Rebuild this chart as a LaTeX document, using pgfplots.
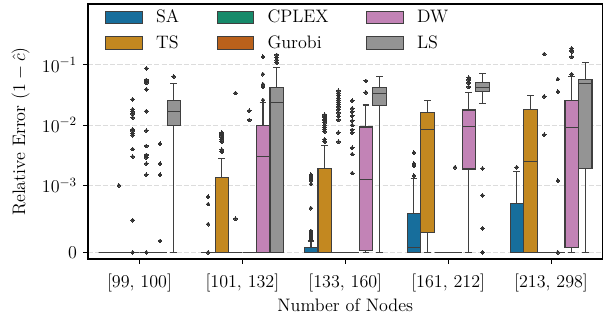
\RequirePackage{fix-cm}
\documentclass[border=0pt,12pt]{standalone}
\usepackage{pgfplots}
\pgfplotsset{compat=1.18}
\usepgfplotslibrary{statistics}
\definecolor{cSA}{HTML}{176E9C}
\definecolor{cTS}{HTML}{C38820}
\definecolor{cCP}{HTML}{168A6A}
\definecolor{cGU}{HTML}{BA611B}
\definecolor{cDW}{HTML}{C283B6}
\definecolor{cLS}{HTML}{949494}
\definecolor{edge}{HTML}{3F3F3F}
\definecolor{outc}{HTML}{333333}
\definecolor{gridc}{HTML}{DCDCDC}
% symmetric-log scale of the chart (linear below 1e-3, log above)
\newcommand{\symlog}[2]{%
  \begingroup
  \pgfkeys{/pgf/fpu=true,/pgf/fpu/output format=fixed}%
  \pgfmathparse{min(#1*1000,1)*1.1111111+ln(max(#1*1000,1))*0.4342944819}%
  \xdef#2{\pgfmathresult}%
  \endgroup}
% #1 position, #2 colour, #3 lower whisker, #4 Q1, #5 median, #6 Q3, #7 upper whisker, #8 outliers (comma list)
\newcommand{\bx}[8]{%
  \symlog{#3}\vA\symlog{#4}\vB\symlog{#5}\vC\symlog{#6}\vD\symlog{#7}\vE
  \gdef\outl{}%
  \if\relax\detokenize{#8}\relax\else
    \foreach \v in {#8}{\symlog{\v}\vo\xdef\outl{\outl(0,\vo)}}%
  \fi
  \edef\doplot{\noexpand\addplot[forget plot, draw=edge, line width=0.8pt,
    mark=*, mark size=1.35pt, mark options={fill=outc, draw=outc, line width=0pt},
    boxplot/draw direction=y,
    boxplot/every box/.style={fill=#2, draw=edge},
    boxplot/every median/.style={draw=edge},
    boxplot/every whisker/.style={draw=edge},
    boxplot prepared={draw position=#1, box extend=0.13, whisker extend=0.065,
      lower whisker=\vA, lower quartile=\vB, median=\vC, upper quartile=\vD, upper whisker=\vE}]
    coordinates {\outl};}%
  \doplot}
\symlog{-0.0001}\ymn
\symlog{1.02}\ymx
\symlog{0.001}\tA
\symlog{0.01}\tB
\symlog{0.1}\tC
\begin{document}
\fontsize{13}{15.6}\selectfont
\begin{tikzpicture}
\begin{axis}[
  scale only axis, width=370.4pt, height=183.6pt,
  xmin=-0.5, xmax=4.5,
  ymin=\ymn, ymax=\ymx,
  ytick={0,\tA,\tB,\tC},
  yticklabels={$0$,$10^{-3}$,$10^{-2}$,$10^{-1}$},
  xtick={0,1,2,3,4},
  xticklabels={{[99, 100]},{[101, 132]},{[133, 160]},{[161, 212]},{[213, 298]}},
  xticklabel style={yshift=-3pt},
  xtick pos=bottom, ytick pos=left,
  tick align=outside, major tick length=3.5pt,
  every tick/.style={black, line width=0.8pt},
  minor tick num=0,
  axis line style={line width=0.9pt},
  ymajorgrids,
  major grid style={gridc, line width=0.8pt, dash pattern=on 3.7pt off 1.6pt},
  xlabel={Number of Nodes},
  xlabel style={yshift=4.5pt},
  ylabel={Relative Error $(1-\hat{c})$},
  legend columns=3,
  legend cell align=left,
  legend style={at={(0.033,0.985)}, anchor=north west, draw=none, fill=none,
    inner sep=0pt, row sep=5.5pt,
    nodes={inner sep=1pt, anchor=west},
    /tikz/every odd column/.style={column sep=8.6pt},
    /tikz/every even column/.style={column sep=26pt}},
  legend image code/.code={\draw[#1, line width=0.6pt] (0pt,-4.6pt) rectangle (26.4pt,4.6pt);},
]
\addlegendimage{fill=cSA, draw=edge}\addlegendentry{SA}
\addlegendimage{fill=cCP, draw=edge}\addlegendentry{CPLEX}
\addlegendimage{fill=cDW, draw=edge}\addlegendentry{DW}
\addlegendimage{fill=cTS, draw=edge}\addlegendentry{TS}
\addlegendimage{fill=cGU, draw=edge}\addlegendentry{Gurobi}
\addlegendimage{fill=cLS, draw=edge}\addlegendentry{LS}
% group 0: [99, 100]
\bx{-0.3333}{cSA}{0}{0}{0}{0}{0}{}
\bx{-0.2}{cTS}{0}{0}{0}{0}{0}{0.001}
\bx{-0.0667}{cCP}{0}{0}{0}{0}{0}{0.0268,0.0183,0.0167,0.0153,0.0133,0.0085,0.0080,0.0073,0.0068,0.0040,0.0030,0.00048,0}
\bx{0.0667}{cGU}{0}{0}{0}{0}{0}{0.0875,0.056,0.053,0.050,0.039,0.017,0.0081,0.0045,0.0032,0.0031,0.0029,0.0023,0.0015,0}
\bx{0.2}{cDW}{0}{0}{0}{0}{0}{0.0049,0.0023,0.0015,0.00017}
\bx{0.3333}{cLS}{0}{0.0097}{0.0167}{0.0254}{0.049}{0.064}
% group 1: [101, 132]
\bx{0.6667}{cSA}{0}{0}{0}{0}{0}{0.00083,0.00072,0.00042,0}
\bx{0.8}{cTS}{0}{0}{0}{0.00136}{0.0028}{0.0075,0.0072,0.0069,0.0066,0.0062,0.0058,0.0053,0.0039,0.0036}
\bx{0.9333}{cCP}{0}{0}{0}{0}{0}{0.034,0.0005}
\bx{1.0667}{cGU}{0}{0}{0}{0}{0}{0.0173,0.0122}
\bx{1.2}{cDW}{0}{0}{0.0030}{0.0100}{0.024}{0.136,0.070,0.0475,0.043,0.026}
\bx{1.3333}{cLS}{0}{0}{0.024}{0.042}{0.091}{0.146,0.133,0.120,0.108}
% group 2: [133, 160]
\bx{1.6667}{cSA}{0}{0}{0}{0.00007}{0.00017}{0.00019,0.00022,0.00025,0.00028,0.00030,0.00032,0.00066,0.00105,0.0012,0.0013,0.0014,0.0015}
\bx{1.8}{cTS}{0}{0}{0}{0.0019}{0.0046}{0.0148,0.0140,0.0132,0.0125,0.0118,0.0110,0.0100,0.0092,0.0085,0.0078,0.0058,0.0053}
\bx{1.9333}{cCP}{0}{0}{0}{0}{0}{0.037,0.034,0.031,0.028,0.026,0.024,0.022,0.020,0.018,0.016,0.014,0.0122,0.0075,0.0053}
\bx{2.0667}{cGU}{0}{0}{0}{0}{0}{0.0255,0.019,0.0167,0.0142,0.0118,0.0100,0.0083,0.0075,0.0042,0.0033,0.0016}
\bx{2.2}{cDW}{0}{0.000025}{0.00125}{0.0093}{0.0215}{0.054,0.035}
\bx{2.3333}{cLS}{0}{0.021}{0.033}{0.042}{0.0635}{}
% group 3: [161, 212]
\bx{2.6667}{cSA}{0}{0}{0.000066}{0.00058}{0.0013}{0.0035,0.0023,0.0021,0.00145}
\bx{2.8}{cTS}{0}{0.0003}{0.0085}{0.0163}{0.0258}{}
\bx{2.9333}{cCP}{0}{0}{0}{0}{0}{}
\bx{3.0667}{cGU}{0}{0}{0}{0}{0}{0.002}
\bx{3.2}{cDW}{0}{0.00187}{0.0094}{0.0178}{0.035}{0.061,0.056,0.050,0.043}
\bx{3.3333}{cLS}{0.023}{0.036}{0.042}{0.051}{0.072}{0.0019,0.00085,0.00036,0}
% group 4: [213, 298]
\bx{3.6667}{cSA}{0}{0}{0}{0.00073}{0.0017}{0.0020}
\bx{3.8}{cTS}{0}{0}{0.0025}{0.0183}{0.031}{}
\bx{3.9333}{cCP}{0}{0}{0}{0}{0}{0.151,0.030,0.0069}
\bx{4.0667}{cGU}{0}{0}{0}{0}{0}{0.058,0.036,0.0012,0}
\bx{4.2}{cDW}{0}{0.000076}{0.0091}{0.026}{0.0635}{0.188,0.176,0.165,0.136,0.070}
\bx{4.3333}{cLS}{0}{0.0019}{0.049}{0.058}{0.110}{}
\end{axis}
\pgfresetboundingbox
\path[use as bounding box] (-63.4pt,-43.9pt) rectangle (375.8pt,186.5pt);
\end{tikzpicture}
\end{document}
